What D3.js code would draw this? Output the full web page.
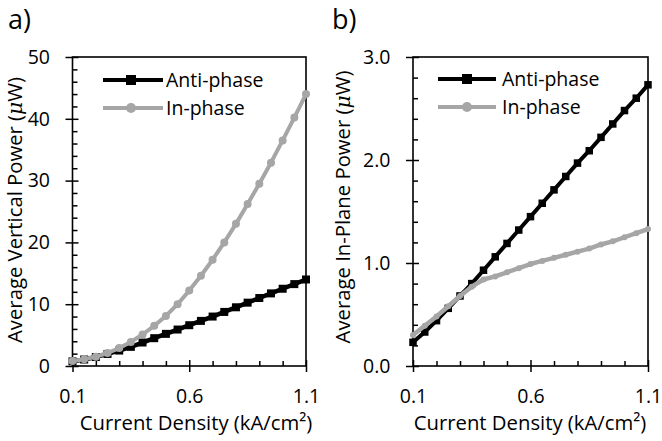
<!DOCTYPE html>
<html><head><meta charset="utf-8">
<script src="https://cdn.jsdelivr.net/npm/d3@7"></script>
<style>body{margin:0;background:#fff}</style>
</head><body>
<svg id="c" width="662" height="441" xmlns="http://www.w3.org/2000/svg"></svg>
<script>
// ---- data ----
const currentDensity = [0.10,0.15,0.20,0.25,0.30,0.35,0.40,0.45,0.50,0.55,0.60,0.65,0.70,0.75,0.80,0.85,0.90,0.95,1.00,1.05,1.10];
const verticalAntiPhase = [0.75,1.05,1.45,1.95,2.5,3.1,3.8,4.5,5.2,5.9,6.6,7.3,8.0,8.75,9.5,10.25,11.0,11.75,12.5,13.25,14.0];
const verticalInPhase = [0.8,1.1,1.5,2.1,2.9,3.9,5.1,6.5,8.1,10.0,12.2,14.6,17.2,20.0,23.0,26.2,29.5,32.9,36.5,40.2,44.0];
const inPlaneAntiPhase = [0.23,0.33,0.44,0.56,0.68,0.80,0.93,1.06,1.19,1.32,1.45,1.58,1.71,1.84,1.97,2.09,2.22,2.35,2.48,2.60,2.73];
const inPlaneInPhase = [0.30,0.39,0.48,0.58,0.68,0.77,0.84,0.87,0.91,0.95,0.99,1.02,1.05,1.08,1.11,1.14,1.18,1.21,1.25,1.29,1.33];
const seriesNames = ["Anti-phase","In-phase"];
const xTicks = [0.1,0.6,1.1];
const xMinorTicks = [0.2,0.3,0.4,0.5,0.7,0.8,0.9,1.0];
const yTicksA = [0,10,20,30,40,50];
const yMinorA = [2,4,6,8,12,14,16,18,22,24,26,28,32,34,36,38,42,44,46,48];
const yTicksB = [0,1,2,3];
const yMinorB = [0.2,0.4,0.6,0.8,1.2,1.4,1.6,1.8,2.2,2.4,2.6,2.8];
const panelLabels = ["a)","b)"];
const yTitleParts = [["Average Vertical Power (","μ","W)"],["Average In-Plane Power (","μ","W)"]];
const xTitle = "Current Density (kA/cm²)";

// ---- style ----
const FONT = "'Open Sans', sans-serif";
const FS = 19.5;
const FST = 20.3;
const GRAY = "#a6a6a6";
const svg = d3.select("#c");

const panels = [
  {label: panelLabels[0], l:72.5, r:306, t:57, b:366, yDomain:[0,50], yTicks:yTicksA, yMinor:yMinorA, fmt:d3.format("d"),
   anti: verticalAntiPhase, inph: verticalInPhase, yTitle: yTitleParts[0], yTitleX:22, yTitleY:210, xTitleX:196, labelX:8,
   leg:{x0:103,x1:163,xm:131,tx:166,y0:80,y1:108}, antiW:4.5, antiSq:8, inW:4, inR:4},
  {label: panelLabels[1], l:413, r:648, t:57, b:366, yDomain:[0,3], yTicks:yTicksB, yMinor:yMinorB, fmt:d3.format(".1f"),
   anti: inPlaneAntiPhase, inph: inPlaneInPhase, yTitle: yTitleParts[1], yTitleX:350, yTitleY:207, xTitleX:530, labelX:332,
   leg:{x0:438,x1:496,xm:467,tx:502,y0:79,y1:107}, antiW:4, antiSq:7.5, inW:4.5, inR:3}
];

function styleAxis(g, labels) {
  g.select(".domain").remove();
  g.selectAll(".tick line").attr("stroke","#000").attr("stroke-width",1.5);
  g.selectAll("text").attr("font-family",FONT).attr("font-size",FS).attr("fill","#000");
  if (!labels) g.selectAll("text").remove();
}

panels.forEach(p => {
  const x = d3.scaleLinear().domain([0.1,1.1]).range([p.l,p.r]);
  const y = d3.scaleLinear().domain(p.yDomain).range([p.b,p.t]);
  const g = svg.append("g");

  g.append("g").attr("transform",`translate(${p.l},0)`)
    .call(d3.axisLeft(y).tickValues(p.yTicks).tickSize(7).tickPadding(15.5).tickFormat(p.fmt))
    .call(a=>styleAxis(a,true));
  g.append("g").attr("transform",`translate(${p.l},0)`)
    .call(d3.axisRight(y).tickValues(p.yTicks).tickSize(6)).call(a=>styleAxis(a,false));
  g.append("g").attr("transform",`translate(${p.l},0)`)
    .call(d3.axisRight(y).tickValues(p.yMinor).tickSize(5)).call(a=>styleAxis(a,false));
  g.append("g").attr("transform",`translate(0,${p.b})`)
    .call(d3.axisBottom(x).tickValues(xTicks).tickSize(6).tickPadding(17.5).tickFormat(d3.format(".1f")))
    .call(a=>styleAxis(a,true));
  g.append("g").attr("transform",`translate(0,${p.b})`)
    .call(d3.axisTop(x).tickValues(xTicks).tickSize(6)).call(a=>styleAxis(a,false));
  g.append("g").attr("transform",`translate(0,${p.b})`)
    .call(d3.axisTop(x).tickValues(xMinorTicks).tickSize(5)).call(a=>styleAxis(a,false));

  g.append("rect").attr("x",p.l).attr("y",p.t).attr("width",p.r-p.l).attr("height",p.b-p.t)
    .attr("fill","none").attr("stroke","#000").attr("stroke-width",1.6);

  const line = d3.line().x((d,i)=>x(currentDensity[i])).y(d=>y(d));
  g.append("path").datum(p.anti).attr("d",line).attr("fill","none").attr("stroke","#000")
    .attr("stroke-width",p.antiW).attr("stroke-linejoin","round");
  g.selectAll(".sq").data(p.anti).join("rect").attr("class","sq")
    .attr("x",(d,i)=>x(currentDensity[i])-p.antiSq/2).attr("y",d=>y(d)-p.antiSq/2)
    .attr("width",p.antiSq).attr("height",p.antiSq).attr("fill","#000");
  g.append("path").datum(p.inph).attr("d",line).attr("fill","none").attr("stroke",GRAY)
    .attr("stroke-width",p.inW).attr("stroke-linejoin","round");
  g.selectAll(".ci").data(p.inph).join("circle").attr("class","ci")
    .attr("cx",(d,i)=>x(currentDensity[i])).attr("cy",d=>y(d)).attr("r",p.inR).attr("fill",GRAY);

  const L = p.leg;
  g.append("line").attr("x1",L.x0).attr("x2",L.x1).attr("y1",L.y0).attr("y2",L.y0).attr("stroke","#000").attr("stroke-width",4);
  g.append("rect").attr("x",L.xm-5).attr("y",L.y0-5).attr("width",10).attr("height",10).attr("fill","#000");
  g.append("line").attr("x1",L.x0).attr("x2",L.x1).attr("y1",L.y1).attr("y2",L.y1).attr("stroke",GRAY).attr("stroke-width",4);
  g.append("circle").attr("cx",L.xm).attr("cy",L.y1).attr("r",5).attr("fill",GRAY);
  [L.y0,L.y1].forEach((yy,k)=>{
    g.append("text").attr("x",L.tx).attr("y",yy+7).attr("font-family",FONT).attr("font-size",FS)
      .attr("fill","#000").text(seriesNames[k]);
  });

  const yt = g.append("text").attr("transform",`translate(${p.yTitleX},${p.yTitleY}) rotate(-90)`)
    .attr("text-anchor","middle").attr("font-family",FONT).attr("font-size",FST).attr("fill","#000");
  yt.append("tspan").text(p.yTitle[0]);
  yt.append("tspan").attr("font-style","italic").attr("font-family","'DejaVu Serif', serif").text(p.yTitle[1]);
  yt.append("tspan").text(p.yTitle[2]);
  g.append("text").attr("x",p.xTitleX).attr("y",430).attr("text-anchor","middle")
    .attr("font-family",FONT).attr("font-size",FST).attr("fill","#000").text(xTitle);
  g.append("text").attr("x",p.labelX).attr("y",29).attr("font-family",FONT).attr("font-size",27)
    .attr("fill","#000").text(p.label);
});
</script>
</body></html>
